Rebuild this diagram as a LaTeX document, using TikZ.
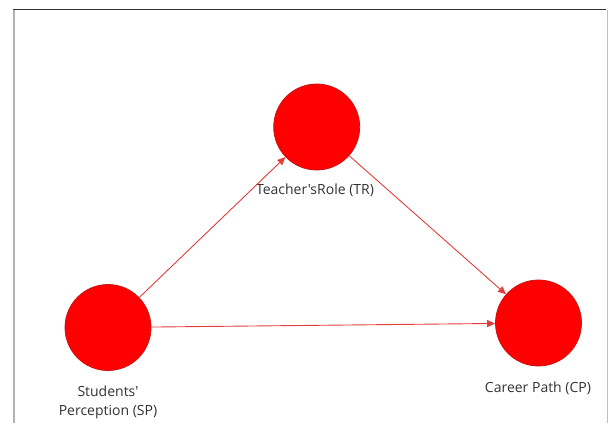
\documentclass[tikz,border=0pt]{standalone}
\usepackage{fontspec}
\setmainfont{Open Sans}[Ligatures=TeXOff]
\usetikzlibrary{arrows.meta}
\definecolor{nodefill}{RGB}{255,0,0}
\definecolor{nodeline}{RGB}{205,20,20}
\definecolor{edgecol}{RGB}{228,60,60}
\definecolor{labelcol}{RGB}{50,50,50}
\begin{document}
\begin{tikzpicture}[x=1pt,y=-1pt,
  latent/.style={circle,fill=nodefill,draw=nodeline,line width=0.8pt,minimum size=86pt,inner sep=0pt},
  lbl/.style={text=labelcol,font=\fontsize{14}{19}\selectfont,align=center,inner sep=0pt},
  path/.style={draw=edgecol,line width=0.9pt,-{Triangle[length=8pt,width=7pt]}}]
\useasboundingbox (0,0) rectangle (609,423);
% frame
\draw[color=gray!60,line width=2pt] (13.5,9.5) -- (13.5,423);
\draw[color=gray!50,line width=1.5pt] (607.5,9.5) -- (607.5,423);
\draw[color=black!80,line width=1.8pt] (13,9.5) -- (606,9.5);
% nodes
\node[latent] (SP) at (108,327.5) {};
\node[latent] (TR) at (316.7,127) {};
\node[latent] (CP) at (538.5,323) {};
% labels
\node[lbl] (SPl) at (108,402.5) {Students'\\Perception (SP)};
\node[lbl] (TRl) at (315,190) {Teacher'sRole (TR)};
\node[lbl] (CPl) at (538,388) {Career Path (CP)};
% paths
\draw[path] (SP) -- (TR);
\draw[path] (TR) -- (CP);
\draw[path] (SP) -- (CP);
\end{tikzpicture}
\end{document}
